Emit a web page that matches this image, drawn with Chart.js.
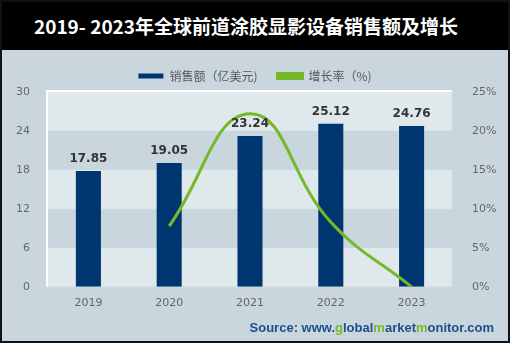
<!DOCTYPE html>
<html>
<head>
<meta charset="utf-8">
<script src="https://cdn.jsdelivr.net/npm/chart.js@4"></script>
<style>
  body { margin: 0; background: #fff; width: 529px; height: 343px; overflow: hidden; }
  #frame { position: absolute; left: 0; top: 0; width: 506px; height: 339px; background: #c9d6dd; border: 2px solid #111; }
  #title { position: absolute; left: 0; top: 0; width: 506px; height: 48px; background: #000; color: #fff;
    font: bold 19px "Noto Sans CJK SC", sans-serif; line-height: 48px; text-align: center; padding-right: 18px; box-sizing: border-box; }
  #wrap { position: absolute; left: 0; top: 48px; width: 506px; height: 291px; }
  #source { position: absolute; right: 14px; bottom: 6px; font: bold 13px "Liberation Sans", Arial, sans-serif; color: #1d4f8c; }
  #source b { color: #7ab929; }
</style>
</head>
<body>
<div id="frame">
  <div id="title">2019- 2023年全球前道涂胶显影设备销售额及增长</div>
  <div id="wrap"><canvas id="chart"></canvas></div>
  <div id="source">Source: www.<b>g</b>lobal<b>m</b>arket<b>m</b>onitor.com</div>
</div>
<script>
var years = ["2019", "2020", "2021", "2022", "2023"];
var sales = [17.85, 19.05, 23.24, 25.12, 24.76];
var growth = [null, 7.8, 22.2, 8.3, 0];
var leftTicks = [0, 6, 12, 18, 24, 30];
var rightTicks = [0, 5, 10, 15, 20, 25];

// alternating background bands in the plot area
var bands = {
  id: "bands",
  beforeDatasetsDraw: function (chart) {
    var ctx = chart.ctx, a = chart.chartArea, y = chart.scales.y;
    ctx.save();
    for (var i = 0; i < leftTicks.length - 1; i++) {
      var t = y.getPixelForValue(leftTicks[i + 1]), b = y.getPixelForValue(leftTicks[i]);
      ctx.fillStyle = i % 2 === 0 ? "#dfe8eb" : "#c9d6dd";
      ctx.fillRect(a.left, t, a.right - a.left, b - t);
    }
    ctx.strokeStyle = "#ffffff";
    ctx.lineWidth = 2;
    ctx.beginPath();
    ctx.moveTo(a.left - 1, a.bottom);
    ctx.lineTo(a.left - 1, a.top - 1);
    ctx.lineTo(a.right, a.top - 1);
    ctx.stroke();
    ctx.strokeStyle = "#d0d8dc";
    ctx.lineWidth = 1;
    ctx.beginPath();
    ctx.moveTo(a.left, a.bottom + 0.5);
    ctx.lineTo(a.right, a.bottom + 0.5);
    ctx.stroke();
    ctx.restore();
  }
};

// value labels over the bars
var barLabels = {
  id: "barLabels",
  afterDatasetsDraw: function (chart) {
    var ctx = chart.ctx, meta = chart.getDatasetMeta(0);
    ctx.save();
    ctx.font = "bold 12px 'DejaVu Sans', sans-serif";
    ctx.fillStyle = "#333";
    ctx.textAlign = "center";
    ctx.textBaseline = "bottom";
    meta.data.forEach(function (bar, i) {
      ctx.fillText(sales[i].toFixed(2), bar.x, bar.y - 6);
    });
    ctx.restore();
  }
};

new Chart(document.getElementById("chart"), {
  type: "bar",
  data: {
    labels: years,
    datasets: [{
      label: "销售额（亿美元)",
      data: sales,
      backgroundColor: "#00366f",
      yAxisID: "y",
      categoryPercentage: 1,
      barPercentage: 0.31,
      order: 1
    }, {
      type: "line",
      label: "增长率（%)",
      data: growth,
      borderColor: "#76b82a",
      backgroundColor: "#76b82a",
      borderWidth: 3,
      pointRadius: 0,
      tension: 0.45,
      yAxisID: "y1",
      order: 0
    }]
  },
  options: {
    responsive: true,
    maintainAspectRatio: false,
    animation: false,
    layout: { padding: { top: 0, left: 0, right: 0, bottom: 29 } },
    plugins: {
      tooltip: { enabled: false },
      legend: {
        labels: {
          boxWidth: 25,
          boxHeight: 5,
          padding: 20,
          color: "#595959",
          font: { size: 12, family: "'Noto Sans CJK SC', sans-serif" },
          sort: function (a, b) { return a.datasetIndex - b.datasetIndex; }
        }
      }
    },
    scales: {
      x: {
        grid: { display: false },
        border: { display: false },
        ticks: { color: "#666", font: { size: 11, family: "'DejaVu Sans', sans-serif" }, padding: 2 }
      },
      y: {
        position: "left",
        min: 0, max: 30,
        afterBuildTicks: function (s) { s.ticks = leftTicks.map(function (v) { return { value: v }; }); },
        afterFit: function (s) { s.width = 46; },
        grid: { display: false },
        border: { display: false },
        ticks: { color: "#666", font: { size: 11, family: "'DejaVu Sans', sans-serif" }, padding: 10 }
      },
      y1: {
        position: "right",
        min: 0, max: 25,
        afterBuildTicks: function (s) { s.ticks = rightTicks.map(function (v) { return { value: v }; }); },
        afterFit: function (s) { s.width = 56; },
        grid: { display: false },
        border: { display: false },
        ticks: {
          color: "#666", font: { size: 11, family: "'DejaVu Sans', sans-serif" }, padding: 12,
          callback: function (v) { return v + "%"; }
        }
      }
    }
  },
  plugins: [bands, barLabels]
});
</script>
</body>
</html>
